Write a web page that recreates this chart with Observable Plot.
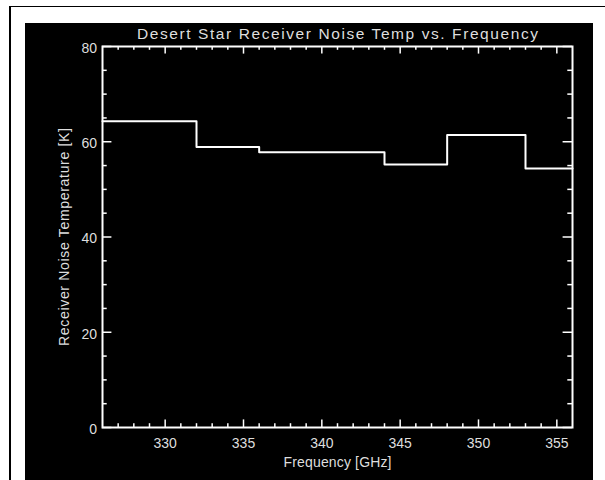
<!DOCTYPE html>
<html>
<head>
<meta charset="utf-8">
<script src="https://cdn.jsdelivr.net/npm/d3@7"></script>
<script src="https://cdn.jsdelivr.net/npm/@observablehq/plot@0.6"></script>
<style>
  html, body { margin: 0; padding: 0; background: #ffffff; }
  #wrap { position: relative; width: 605px; height: 480px; overflow: hidden; background: #ffffff; }
  #border { position: absolute; left: 9px; top: 6px; width: 600px; height: 480px;
            border-left: 2px solid #000; border-top: 1px solid #000; box-sizing: border-box; }
  #panel { position: absolute; left: 25px; top: 23px; width: 568px; height: 457px; background: #000; }
  #chart { position: absolute; left: 0; top: 0; }
</style>
</head>
<body>
<div id="wrap">
  <div id="border"></div>
  <div id="panel"></div>
  <div id="chart"></div>
</div>
<script>
// ---- data ----
const title = "Desert Star Receiver Noise Temp vs. Frequency";
const xLabel = "Frequency [GHz]";
const yLabel = "Receiver Noise Temperature [K]";
// frequency bin edges (GHz) and receiver noise temperature in each bin (K)
const binEdges = [326, 332, 336, 344, 348, 353, 356];
const noiseTemp = [64.3, 58.9, 57.8, 55.2, 61.4, 54.4];
const xMajorTicks = [330, 335, 340, 345, 350, 355];
const xMinorTicks = [327, 328, 329, 331, 332, 333, 334, 336, 337, 338, 339, 341, 342, 343, 344, 346, 347, 348, 349, 351, 352, 353, 354];
const yMajorTicks = [0, 20, 40, 60, 80];
const yMinorTicks = [5, 10, 15, 25, 30, 35, 45, 50, 55, 65, 70, 75];
const xDomain = [326, 356];
const yDomain = [0, 80];

// step line: each bin value held until the next edge
const stepData = binEdges.map((f, i) => ({f, t: noiseTemp[Math.min(i, noiseTemp.length - 1)]}));

const W = 605, H = 480;
const mL = 102, mR = 33, mT = 46, mB = 53;
const fw = W - mL - mR, fh = H - mT - mB;
const ink = "#ffffff";
const txt = "#dedede";

const plot = Plot.plot({
  width: W, height: H,
  marginLeft: mL, marginRight: mR, marginTop: mT, marginBottom: mB,
  style: {background: "transparent", fontFamily: "'Liberation Sans', Arial, sans-serif", overflow: "visible"},
  x: {domain: xDomain, axis: null, label: null},
  y: {domain: yDomain, axis: null, label: null},
  marks: [
    // ticks on all four sides, pointing inward
    Plot.tickX(xMajorTicks, {x: d => d, stroke: ink, strokeWidth: 1.5, insetTop: fh - 7.6}),
    Plot.tickX(xMinorTicks, {x: d => d, stroke: ink, strokeWidth: 1.5, insetTop: fh - 3.8}),
    Plot.tickX(xMajorTicks, {x: d => d, stroke: ink, strokeWidth: 1.5, insetBottom: fh - 7.6}),
    Plot.tickX(xMinorTicks, {x: d => d, stroke: ink, strokeWidth: 1.5, insetBottom: fh - 3.8}),
    Plot.tickY(yMajorTicks, {y: d => d, stroke: ink, strokeWidth: 1.5, insetRight: fw - 9.4}),
    Plot.tickY(yMinorTicks, {y: d => d, stroke: ink, strokeWidth: 1.5, insetRight: fw - 4.7}),
    Plot.tickY(yMajorTicks, {y: d => d, stroke: ink, strokeWidth: 1.5, insetLeft: fw - 9.4}),
    Plot.tickY(yMinorTicks, {y: d => d, stroke: ink, strokeWidth: 1.5, insetLeft: fw - 4.7}),
    Plot.frame({stroke: ink, strokeWidth: 2}),
    // tick labels
    Plot.axisX(xMajorTicks, {tickSize: 0, tickPadding: 11, fontSize: 14, color: txt, label: null, tickFormat: d => String(d)}),
    Plot.axisY(yMajorTicks, {tickSize: 0, tickPadding: 5.5, dy: 2, fontSize: 14, color: txt, label: null, tickFormat: d => String(d)}),
    // data
    Plot.line(stepData, {x: "f", y: "t", curve: "step-after", stroke: ink, strokeWidth: 2}),
    // texts
    Plot.text([title], {frameAnchor: "top", dy: -12.8, lineAnchor: "middle", fontSize: 15.5, fill: txt}),
    Plot.text([xLabel], {frameAnchor: "bottom", dy: 35, lineAnchor: "middle", fontSize: 14, fill: txt}),
    Plot.text([yLabel], {frameAnchor: "left", textAnchor: "middle", dx: -37.5, rotate: -90, lineAnchor: "middle", fontSize: 14, fill: txt})
  ]
});

// stretch texts to the widths seen in the reference
plot.querySelectorAll("text").forEach(t => {
  const s = t.textContent;
  if (s === title) t.setAttribute("textLength", 401);
  else if (s === xLabel) t.setAttribute("textLength", 108);
  else if (s === yLabel) t.setAttribute("textLength", 218);
});
document.getElementById("chart").appendChild(plot);
</script>
</body>
</html>
